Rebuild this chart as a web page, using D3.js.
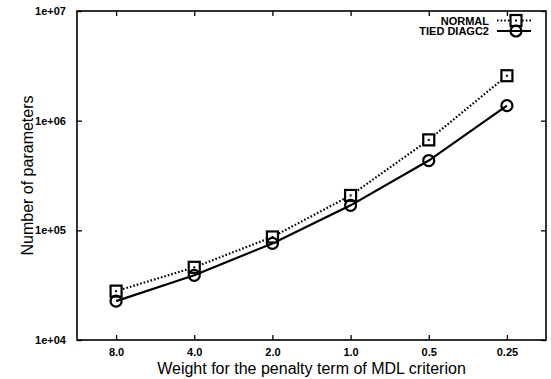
<!DOCTYPE html>
<html>
<head>
<meta charset="utf-8">
<script src="https://cdn.jsdelivr.net/npm/d3@7"></script>
<style>
  html, body { margin: 0; padding: 0; background: #fff; }
  svg { display: block; font-family: "Liberation Sans", Arial, Helvetica, sans-serif; }
</style>
</head>
<body>
<svg id="chart" width="551" height="379"></svg>
<script>
// Penalty weights on the x axis (categorical, evenly spaced)
const weights = ["8.0", "4.0", "2.0", "1.0", "0.5", "0.25"];
// Number of model parameters for each configuration
const normalParams = [27900, 46000, 87000, 208000, 668000, 2570000];
const tiedParams = [22600, 38900, 76000, 169000, 433000, 1370000];
const yTicks = [1e4, 1e5, 1e6, 1e7];
const yTickLabels = ["1e+04", "1e+05", "1e+06", "1e+07"];
const seriesNames = ["NORMAL", "TIED DIAGC2"];

const svg = d3.select("#chart");
const margin = { left: 77, right: 5, top: 11, bottom: 39 };
const W = 551, H = 379;
const x0 = margin.left, x1 = W - margin.right;
const y0 = H - margin.bottom, y1 = margin.top;

const x = d3.scalePoint().domain(weights).range([x0, x1]).padding(0.5);
const y = d3.scaleLog().domain([1e4, 1e7]).range([y0, y1]);

// Frame
svg.append("rect")
  .attr("x", x0).attr("y", y1)
  .attr("width", x1 - x0).attr("height", y0 - y1)
  .attr("fill", "none").attr("stroke", "#000").attr("stroke-width", 1.6);

// Axes with inward ticks on all four sides
const fmtY = d => yTickLabels[yTicks.indexOf(d)];
const axisBottom = d3.axisBottom(x).tickSizeInner(-5).tickSizeOuter(0).tickPadding(8);
const axisTop = d3.axisTop(x).tickSizeInner(-5).tickSizeOuter(0).tickFormat("");
const axisLeft = d3.axisLeft(y).tickValues(yTicks).tickFormat(fmtY).tickSizeInner(-5).tickSizeOuter(0).tickPadding(11);
const axisRight = d3.axisRight(y).tickValues(yTicks).tickFormat("").tickSizeInner(-5).tickSizeOuter(0);

function styleAxis(g) {
  g.select(".domain").remove();
  g.selectAll(".tick line").attr("stroke", "#000").attr("stroke-width", 1.3);
  g.selectAll(".tick text")
    .attr("fill", "#000")
    .style("font-size", "11px")
    .style("font-weight", "bold");
}

svg.append("g").attr("transform", `translate(0,${y0})`).call(axisBottom).call(styleAxis);
svg.append("g").attr("transform", `translate(0,${y1})`).call(axisTop).call(styleAxis);
svg.append("g").attr("transform", `translate(${x0},0)`).call(axisLeft).call(styleAxis);
svg.append("g").attr("transform", `translate(${x1},0)`).call(axisRight).call(styleAxis);

// Axis titles
svg.append("text")
  .attr("x", (x0 + x1) / 2).attr("y", 374)
  .attr("text-anchor", "middle")
  .style("font-size", "16px")
  .text("Weight for the penalty term of MDL criterion");

svg.append("text")
  .attr("transform", `translate(33,${(y0 + y1) / 2}) rotate(-90)`)
  .attr("text-anchor", "middle")
  .style("font-size", "16px")
  .text("Number of parameters");

// Series lines
const line = d3.line().x((d, i) => x(weights[i])).y(d => y(d));

svg.append("path").datum(normalParams)
  .attr("d", line).attr("fill", "none")
  .attr("stroke", "#000").attr("stroke-width", 2.2)
  .attr("stroke-dasharray", "1.6,2");

svg.append("path").datum(tiedParams)
  .attr("d", line).attr("fill", "none")
  .attr("stroke", "#000").attr("stroke-width", 2.2);

// Markers
function square(g, cx, cy) {
  g.append("rect").attr("x", cx - 5.5).attr("y", cy - 5.5)
    .attr("width", 11).attr("height", 11)
    .attr("fill", "#fff").attr("stroke", "#000").attr("stroke-width", 2.2);
  g.append("rect").attr("x", cx - 1).attr("y", cy - 1)
    .attr("width", 2).attr("height", 2).attr("fill", "#000");
}
function circle(g, cx, cy) {
  g.append("circle").attr("cx", cx).attr("cy", cy).attr("r", 5.5)
    .attr("fill", "none").attr("stroke", "#000").attr("stroke-width", 2.2);
}

const marks = svg.append("g");
normalParams.forEach((v, i) => square(marks, x(weights[i]), y(v)));
tiedParams.forEach((v, i) => circle(marks, x(weights[i]), y(v)));

// Legend
const legend = svg.append("g");
const lx0 = 497, lx1 = 531, lxm = 516;
[20.5, 31].forEach((ly, i) => {
  legend.append("text")
    .attr("x", 489).attr("y", ly + 4)
    .attr("text-anchor", "end")
    .style("font-size", "11px")
    .style("font-weight", "bold")
    .text(seriesNames[i]);
  legend.append("line")
    .attr("x1", lx0).attr("x2", lx1).attr("y1", ly).attr("y2", ly)
    .attr("stroke", "#000").attr("stroke-width", 2.2)
    .attr("stroke-dasharray", i === 0 ? "1.6,2" : null);
  if (i === 0) square(legend, lxm, ly); else circle(legend, lxm, ly);
});
</script>
</body>
</html>
